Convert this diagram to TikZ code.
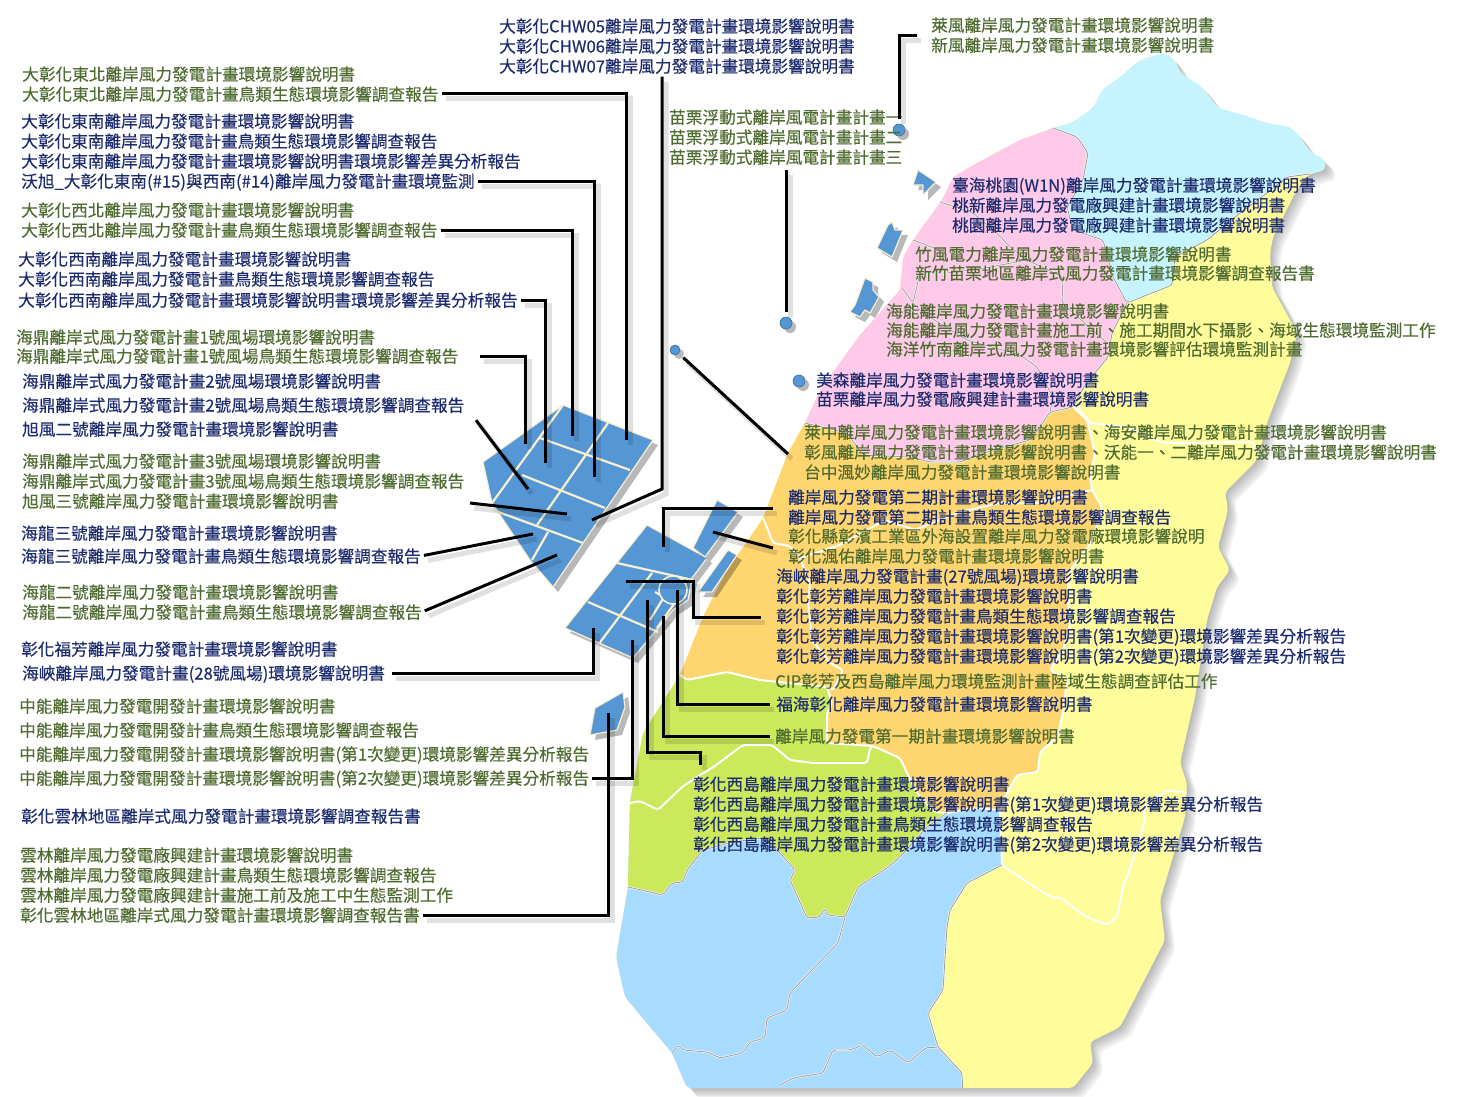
\documentclass[tikz,border=0pt]{standalone}
\usepackage{fontspec}
\setmainfont[FakeBold=0.25]{Noto Sans CJK TC}
\usetikzlibrary{shadows}
\definecolor{farmblue}{HTML}{5597D5}
\definecolor{farmedge}{HTML}{F7EFCF}
\definecolor{navytext}{HTML}{1C2B6E}
\definecolor{olivetext}{HTML}{4E6B30}
\definecolor{northcyan}{HTML}{C5F4FF}
\definecolor{northpink}{HTML}{FFC9E9}
\definecolor{midorange}{HTML}{FFD56F}
\definecolor{midgreen}{HTML}{CBE95B}
\definecolor{southblue}{HTML}{A7DBFF}
\definecolor{eastyellow}{HTML}{FFFC9B}
\newcommand\islandpath{(1053,128) -- (1073,122) -- (1093,108) -- (1102,90) -- (1120,77) -- (1140,60) -- (1163,53) -- (1173,58) -- (1182,75) -- (1200,85) -- (1218,108) -- (1243,115) -- (1267,123) -- (1290,127) -- (1300,137) -- (1310,152) -- (1325,160) -- (1325,170) -- (1310,174) -- (1303,180) -- (1293,197) -- (1273,237) -- (1270,253) -- (1272,287) -- (1297,333) -- (1290,363) -- (1268,420) -- (1257,460) -- (1240,477) -- (1225,492) -- (1228,510) -- (1218,547) -- (1230,570) -- (1217,587) -- (1207,620) -- (1195,697) -- (1180,763) -- (1187,783) -- (1185,817) -- (1160,900) -- (1165,940) -- (1120,1027) -- (1090,1042) -- (1093,1063) -- (1073,1088) -- (687,1088) -- (672,1053) -- (625,997) -- (616,957) -- (628,887) -- (630,802) -- (643,733) -- (680,675) -- (703,617) -- (727,570) -- (753,533) -- (763,518) -- (768,505) -- (788,453) -- (805,423) -- (820,390) -- (860,335) -- (900,290) -- (903,257) -- (913,240) -- (942,200) -- (953,177) -- (977,163) -- (1020,140) -- cycle}
\tikzset{
  bluelabel/.style={anchor=west,inner sep=0pt,text=navytext,font=\fontsize{16.65}{20}\selectfont,text height=15pt,text depth=2pt},
  greenlabel/.style={bluelabel,text=olivetext},
  leader/.style={line width=3pt,shorten <=3pt,preaction={draw=black,opacity=.12,line width=5pt,transform canvas={shift={(4pt,-5pt)}}}},
  farm/.style={fill=farmblue,draw=farmedge,line width=1.2pt,line join=round,drop shadow={shadow xshift=5pt,shadow yshift=-5pt,opacity=.28,fill=black}},
  farmgap/.style={draw=farmedge,line width=2.2pt},
  site/.style={circle,minimum size=12pt,inner sep=0pt,fill=farmblue,draw=farmblue!70!black,line width=.6pt,drop shadow={shadow xshift=4pt,shadow yshift=-4pt,opacity=.28,fill=black}},
  whiteline/.style={draw=white,line width=2pt,rounded corners=3pt},
  grayline/.style={draw=gray!75,line width=.9pt,rounded corners=3pt,preaction={draw=white,line width=2pt}}
}
\begin{document}
\begin{tikzpicture}[x=1pt,y=-1pt]
\useasboundingbox (0,0) rectangle (1464,1097);

\foreach \d in {2,4,6,8,10}
  \fill[black,opacity=.06,xshift=\d pt,yshift=-\d pt,rounded corners=4pt] \islandpath;
\fill[eastyellow,rounded corners=4pt] \islandpath;

\begin{scope}
  \clip[rounded corners=4pt] \islandpath;
  \fill[southblue] (600,780) -- (950,790) -- (1000,810) -- (1002,865) -- (967,883) -- (950,910) -- (947,927) -- (943,990) -- (928,1013) -- (938,1047) -- (962,1073) -- (963,1095) -- (600,1095) -- cycle;
  \fill[northcyan] (1053,128) -- (1077,137) -- (1088,153) -- (1083,180) -- (1067,207) -- (1073,230) -- (1103,240) -- (1113,277) -- (1127,303) -- (1172,285) -- (1175,257) -- (1207,240) -- (1240,213) -- (1267,193) -- (1287,177) -- (1310,174) -- (1340,170) -- (1340,30) -- (1040,30) -- (1040,120) -- cycle;
  \fill[northpink] (1053,128) -- (1077,137) -- (1088,153) -- (1083,180) -- (1067,207) -- (1073,230) -- (1103,240) -- (1113,277) -- (1127,303) -- (1112,333) -- (1108,357) -- (1085,385) -- (1073,407) -- (1050,412) -- (1040,427) -- (1030,440) -- (993,450) -- (960,462) -- (930,462) -- (910,457) -- (863,455) -- (847,433) -- (805,423) -- (780,420) -- (780,300) -- (900,130) -- cycle;
  \fill[midorange] (805,423) -- (847,433) -- (863,455) -- (910,457) -- (930,462) -- (960,462) -- (993,450) -- (1030,440) -- (1040,427) -- (1050,412) -- (1073,407) -- (1087,420) -- (1095,453) -- (1090,477) -- (1092,490) -- (1102,507) -- (1095,533) -- (1088,547) -- (1068,573) -- (1068,600) -- (1070,625) -- (1063,650) -- (1050,670) -- (1067,680) -- (1063,713) -- (1057,737) -- (1040,752) -- (1038,772) -- (1017,775) -- (1007,793) -- (1000,810) -- (977,808) -- (947,813) -- (935,812) -- (917,793) -- (907,773) -- (900,758) -- (873,746) -- (827,743) -- (827,713) -- (832,703) -- (827,687) -- (760,680) -- (727,672) -- (687,680) -- (680,675) -- (600,600) -- (760,400) -- cycle;
  \fill[midgreen] (680,675) -- (687,680) -- (727,672) -- (760,680) -- (827,687) -- (832,703) -- (827,713) -- (827,743) -- (873,746) -- (900,758) -- (907,773) -- (917,793) -- (935,812) -- (947,813) -- (927,827) -- (900,857) -- (887,868) -- (858,887) -- (845,917) -- (827,915) -- (825,908) -- (820,917) -- (807,918) -- (790,880) -- (795,870) -- (780,853) -- (763,838) -- (733,842) -- (703,850) -- (687,870) -- (683,882) -- (672,883) -- (663,895) -- (628,887) -- (600,890) -- (600,660) -- cycle;

  \draw[whiteline] (680,675) -- (687,680) -- (727,672) -- (760,680) -- (827,687) -- (832,703) -- (827,713) -- (827,743) -- (873,746) -- (900,758) -- (907,773) -- (917,793) -- (935,812) -- (947,813);
  \draw[whiteline] (630,803) -- (640,801) -- (658,810) -- (682,787) -- (700,775) -- (712,768) -- (743,745) -- (772,745) -- (790,760) -- (813,763) -- (867,763) -- (870,748) -- (873,746);
  \draw[whiteline] (763,518) -- (768,530) -- (773,543) -- (790,546) -- (800,558) -- (810,583) -- (808,600) -- (812,640) -- (830,663) -- (843,670) -- (833,690) -- (827,687);
  \draw[whiteline] (800,558) -- (840,545) -- (885,520) -- (915,530) -- (960,512) -- (1000,503) -- (1037,503) -- (1092,490);
  \draw[whiteline] (1073,407) -- (1087,420) -- (1095,453) -- (1090,477) -- (1092,490) -- (1102,507) -- (1095,533) -- (1088,547) -- (1068,573) -- (1068,600) -- (1070,625) -- (1063,650) -- (1050,670) -- (1067,680) -- (1063,713) -- (1057,737) -- (1040,752) -- (1038,772) -- (1017,775) -- (1007,793) -- (1000,810);
  \draw[whiteline] (1077,407) -- (1090,423) -- (1127,427) -- (1163,443) -- (1193,443) -- (1253,442) -- (1258,457);
  \draw[whiteline] (1002,865) -- (1027,882) -- (1053,898) -- (1060,897) -- (1083,915) -- (1107,925) -- (1117,917) -- (1123,887) -- (1133,860) -- (1145,820) -- (1143,807) -- (1168,790) -- (1187,793);
  \draw[whiteline] (947,813) -- (977,808) -- (1000,810) -- (1002,865);

  \draw[grayline] (1053,128) -- (1077,137) -- (1088,153) -- (1083,180) -- (1067,207) -- (1073,230) -- (1103,240) -- (1113,277) -- (1127,303) -- (1172,285) -- (1175,257) -- (1207,240) -- (1240,213) -- (1267,193) -- (1287,177) -- (1310,174);
  \draw[grayline] (1127,303) -- (1112,333) -- (1108,357) -- (1085,385) -- (1073,407) -- (1050,412) -- (1040,427) -- (1030,440) -- (993,450) -- (960,462) -- (930,462) -- (910,457) -- (863,455) -- (847,433) -- (805,423);
  \draw[grayline] (940,202) -- (973,213) -- (997,233) -- (1010,247) -- (1027,260) -- (1063,277) -- (1062,303) -- (1107,343);
  \draw[grayline] (913,240) -- (947,253) -- (947,273) -- (985,268) -- (1027,260);
  \draw[grayline] (902,288) -- (913,303) -- (920,273) -- (947,273);
  \draw[grayline] (913,303) -- (923,313) -- (967,340) -- (1020,355) -- (1037,367) -- (1053,397) -- (1050,412);
  \draw[grayline] (845,917) -- (838,943) -- (790,993) -- (787,1010) -- (767,1018) -- (765,1038) -- (750,1042) -- (743,1053) -- (720,1058) -- (707,1052) -- (683,1050) -- (678,1045) -- (672,1053);
  \draw[grayline] (938,1048) -- (927,1047) -- (908,1063) -- (890,1050) -- (877,1057) -- (863,1045) -- (850,1050) -- (833,1050) -- (823,1073) -- (793,1078) -- (780,1085);
  \draw[grayline] (1002,865) -- (967,883) -- (950,910) -- (947,927) -- (943,990) -- (928,1013) -- (938,1047) -- (962,1073) -- (963,1095);
  \draw[grayline] (628,887) -- (663,895) -- (672,883) -- (683,882) -- (687,870) -- (703,850) -- (733,842) -- (763,838) -- (780,853) -- (795,870) -- (790,880) -- (807,918) -- (820,917) -- (825,908) -- (827,915) -- (845,917) -- (858,887) -- (887,868) -- (900,857) -- (927,827) -- (947,813);
\end{scope}

% wind farms
\draw[farm] (563,405) -- (653,440) -- (583,543) -- (553,587) -- (530,560) -- (492,503) -- (483,462) -- cycle;
\draw[farmgap] (563,405) -- (492,503);
\draw[farmgap] (608,423) -- (537,525);
\draw[farmgap] (548,532) -- (532,560);
\draw[farmgap] (540,438) -- (630,470);
\draw[farmgap] (522,475) -- (605,508);
\draw[farmgap] (493,510) -- (583,543);
\draw[farm] (647,525) -- (707,558) -- (692,578) -- (688,600) -- (673,610) -- (633,658) -- (565,628) -- cycle;
\draw[farmgap] (617,563) -- (693,580);
\draw[farmgap] (588,602) -- (658,632);
\draw[farmgap] (652,573) -- (598,645);
\draw[farmgap] (655,592) -- (664,597) -- (650,620);
\draw[farmgap] (674,604) -- (657,628);
\draw[farmgap,fill=farmblue,line width=1.6pt] (673,590) circle (14);
\draw[farm] (717,500) -- (738,512) -- (705,557) -- (693,548) -- cycle;
\draw[farm] (728,550) -- (737,555) -- (712,592) -- (698,592) -- cycle;
\draw[farm] (623,692) -- (625,707) -- (617,730) -- (590,735) -- (595,708) -- cycle;
\draw[farm] (918,170) -- (936,182) -- (923,195) -- (923,185) -- (913,185) -- cycle;
\draw[farm] (892,222) -- (895,230) -- (903,230) -- (892,257) -- (877,248) -- (888,225) -- cycle;
\draw[farm] (865,278) -- (873,282) -- (873,290) -- (879,297) -- (870,313) -- (865,310) -- (860,317) -- (850,312) -- (855,305) -- (858,297) -- cycle;
\node[site] (siteA) at (899,130) {};
\node[site] (siteB) at (786,323) {};
\node[site,minimum size=10pt] (siteC) at (675,350) {};
\node[site] (siteD) at (799,381) {};

% labels on the left
\node[greenlabel] (dbnA) at (22,74) {大彰化東北離岸風力發電計畫環境影響說明書};
\node[greenlabel] (dbnB) at (22,94) {大彰化東北離岸風力發電計畫鳥類生態環境影響調查報告};
\node[bluelabel] (dbeA) at (21,121) {大彰化東南離岸風力發電計畫環境影響說明書};
\node[bluelabel] (dbeB) at (21,141) {大彰化東南離岸風力發電計畫鳥類生態環境影響調查報告};
\node[bluelabel] (dbeC) at (21,161) {大彰化東南離岸風力發電計畫環境影響說明書環境影響差異分析報告};
\node[bluelabel] (dbeD) at (21,181) {沃旭\_大彰化東南(\#15)與西南(\#14)離岸風力發電計畫環境監測};
\node[greenlabel] (dnwA) at (21,210) {大彰化西北離岸風力發電計畫環境影響說明書};
\node[greenlabel] (dnwB) at (21,230) {大彰化西北離岸風力發電計畫鳥類生態環境影響調查報告};
\node[bluelabel] (dswA) at (18,259) {大彰化西南離岸風力發電計畫環境影響說明書};
\node[bluelabel] (dswB) at (18,279) {大彰化西南離岸風力發電計畫鳥類生態環境影響調查報告};
\node[bluelabel] (dswC) at (18,300) {大彰化西南離岸風力發電計畫環境影響說明書環境影響差異分析報告};
\node[greenlabel] (hdaA) at (16,337) {海鼎離岸式風力發電計畫1號風場環境影響說明書};
\node[greenlabel] (hdaB) at (16,356) {海鼎離岸式風力發電計畫1號風場鳥類生態環境影響調查報告};
\node[bluelabel] (hdbA) at (22,381) {海鼎離岸式風力發電計畫2號風場環境影響說明書};
\node[bluelabel] (hdbB) at (22,405) {海鼎離岸式風力發電計畫2號風場鳥類生態環境影響調查報告};
\node[bluelabel] (hdbC) at (22,429) {旭風二號離岸風力發電計畫環境影響說明書};
\node[greenlabel] (hdcA) at (22,461) {海鼎離岸式風力發電計畫3號風場環境影響說明書};
\node[greenlabel] (hdcB) at (22,481) {海鼎離岸式風力發電計畫3號風場鳥類生態環境影響調查報告};
\node[greenlabel] (hdcC) at (22,501) {旭風三號離岸風力發電計畫環境影響說明書};
\node[bluelabel] (hlcA) at (21,533) {海龍三號離岸風力發電計畫環境影響說明書};
\node[bluelabel] (hlcB) at (21,556) {海龍三號離岸風力發電計畫鳥類生態環境影響調查報告};
\node[greenlabel] (hleA) at (22,592) {海龍二號離岸風力發電計畫環境影響說明書};
\node[greenlabel] (hleB) at (22,612) {海龍二號離岸風力發電計畫鳥類生態環境影響調查報告};
\node[bluelabel] (ffA) at (21,649) {彰化福芳離岸風力發電計畫環境影響說明書};
\node[bluelabel] (ffB) at (22,673) {海峽離岸風力發電計畫(28號風場)環境影響說明書};
\node[greenlabel] (znA) at (19,706) {中能離岸風力發電開發計畫環境影響說明書};
\node[greenlabel] (znB) at (19,730) {中能離岸風力發電開發計畫鳥類生態環境影響調查報告};
\node[greenlabel] (znC) at (19,754) {中能離岸風力發電開發計畫環境影響說明書(第1次變更)環境影響差異分析報告};
\node[greenlabel] (znD) at (19,778) {中能離岸風力發電開發計畫環境影響說明書(第2次變更)環境影響差異分析報告};
\node[bluelabel] (yla) at (21,816) {彰化雲林地區離岸式風力發電計畫環境影響調查報告書};
\node[greenlabel] (ylA) at (20,855) {雲林離岸風力發電廠興建計畫環境影響說明書};
\node[greenlabel] (ylB) at (20,875) {雲林離岸風力發電廠興建計畫鳥類生態環境影響調查報告};
\node[greenlabel] (ylC) at (20,895) {雲林離岸風力發電廠興建計畫施工前及施工中生態監測工作};
\node[greenlabel] (ylD) at (20,915) {彰化雲林地區離岸式風力發電計畫環境影響調查報告書};

% labels at the top
\node[bluelabel] (chwA) at (499,26) {大彰化CHW05離岸風力發電計畫環境影響說明書};
\node[bluelabel] (chwB) at (499,46) {大彰化CHW06離岸風力發電計畫環境影響說明書};
\node[bluelabel] (chwC) at (499,66) {大彰化CHW07離岸風力發電計畫環境影響說明書};
\node[greenlabel] (lfA) at (931,25) {萊風離岸風力發電計畫環境影響說明書};
\node[greenlabel] (lfB) at (931,45) {新風離岸風力發電計畫環境影響說明書};
\node[greenlabel] (mlA) at (669,117) {苗栗浮動式離岸風電計畫計畫一};
\node[greenlabel] (mlB) at (669,137) {苗栗浮動式離岸風電計畫計畫二};
\node[greenlabel] (mlC) at (669,157) {苗栗浮動式離岸風電計畫計畫三};

% labels on the map
\node[bluelabel] (tyA) at (952,185) {臺海桃園(W1N)離岸風力發電計畫環境影響說明書};
\node[bluelabel] (tyB) at (952,205) {桃新離岸風力發電廠興建計畫環境影響說明書};
\node[bluelabel] (tyC) at (952,225) {桃園離岸風力發電廠興建計畫環境影響說明書};
\node[greenlabel] (zfA) at (915,254) {竹風電力離岸風力發電計畫環境影響說明書};
\node[greenlabel] (zfB) at (915,273) {新竹苗栗地區離岸式風力發電計畫環境影響調查報告書};
\node[greenlabel] (hnA) at (886,311) {海能離岸風力發電計畫環境影響說明書};
\node[greenlabel] (hnB) at (886,330) {海能離岸風力發電計畫施工前、施工期間水下攝影、海域生態環境監測工作};
\node[greenlabel] (hnC) at (886,349) {海洋竹南離岸式風力發電計畫環境影響評估環境監測計畫};
\node[bluelabel] (msA) at (816,380) {美森離岸風力發電計畫環境影響說明書};
\node[bluelabel] (msB) at (816,399) {苗栗離岸風力發電廠興建計畫環境影響說明書};
\node[greenlabel] (tcA) at (804,432) {萊中離岸風力發電計畫環境影響說明書、海安離岸風力發電計畫環境影響說明書};
\node[greenlabel] (tcB) at (804,452) {彰風離岸風力發電計畫環境影響說明書、沃能一、二離岸風力發電計畫環境影響說明書};
\node[greenlabel] (tcC) at (804,472) {台中渢妙離岸風力發電計畫環境影響說明書};
\node[bluelabel] (ebA) at (788,497) {離岸風力發電第二期計畫環境影響說明書};
\node[bluelabel] (ebB) at (788,517) {離岸風力發電第二期計畫鳥類生態環境影響調查報告};
\node[greenlabel] (ebC) at (788,536) {彰化縣彰濱工業區外海設置離岸風力發電廠環境影響說明};
\node[greenlabel] (ebD) at (788,556) {彰化渢佑離岸風力發電計畫環境影響說明書};
\node[bluelabel] (cfA) at (776,576) {海峽離岸風力發電計畫(27號風場)環境影響說明書};
\node[bluelabel] (cfB) at (776,596) {彰化彰芳離岸風力發電計畫環境影響說明書};
\node[bluelabel] (cfC) at (776,616) {彰化彰芳離岸風力發電計畫鳥類生態環境影響調查報告};
\node[bluelabel] (cfD) at (776,636) {彰化彰芳離岸風力發電計畫環境影響說明書(第1次變更)環境影響差異分析報告};
\node[bluelabel] (cfE) at (776,656) {彰化彰芳離岸風力發電計畫環境影響說明書(第2次變更)環境影響差異分析報告};
\node[greenlabel] (cip) at (775,681) {CIP彰芳及西島離岸風力環境監測計畫陸域生態調查評估工作};
\node[bluelabel] (fh) at (776,704) {福海彰化離岸風力發電計畫環境影響說明書};
\node[greenlabel] (efa) at (775,736) {離岸風力發電第一期計畫環境影響說明書};
\node[bluelabel] (xdA) at (693,784) {彰化西島離岸風力發電計畫環境影響說明書};
\node[bluelabel] (xdB) at (693,804) {彰化西島離岸風力發電計畫環境影響說明書(第1次變更)環境影響差異分析報告};
\node[bluelabel] (xdC) at (693,824) {彰化西島離岸風力發電計畫鳥類生態環境影響調查報告};
\node[bluelabel] (xdD) at (693,844) {彰化西島離岸風力發電計畫環境影響說明書(第2次變更)環境影響差異分析報告};

% free ends of the leaders
\coordinate (tNE) at (626,440);
\coordinate (tSE) at (594,477);
\coordinate (tNW) at (572,436);
\coordinate (tSW) at (545,463);
\coordinate (tHDa) at (525,444);
\coordinate (tHDb) at (528,489);
\coordinate (sHDc) at (470,503);
\coordinate (tHDc) at (567,514);
\coordinate (tHLc) at (533,534);
\coordinate (tHLe) at (557,555);
\coordinate (tFF) at (593,628);
\coordinate (tZN) at (632,640);
\coordinate (tYL) at (608,713);
\coordinate (bCHW) at (662,489);
\coordinate (tCHW) at (592,520);
\coordinate (sEB) at (773,508);
\coordinate (tEB) at (663,547);
\coordinate (sEBd) at (773,548);
\coordinate (tEBd) at (713,532);
\coordinate (sCF) at (761,617);
\coordinate (bCF) at (693,581);
\coordinate (tCF) at (626,581);
\coordinate (tFH) at (677,590);
\coordinate (tEFa) at (663,616);
\coordinate (bXD) at (647,752);
\coordinate (tXD) at (647,600);
\coordinate (sLF) at (917,36);
\coordinate (tTC) at (788,454);

% leaders
\draw[leader] (dbnB.east) -| (tNE);
\draw[leader] (dbeD.east) -| (tSE);
\draw[leader] (dnwB.east) -| (tNW);
\draw[leader] (dswC.east) -| (tSW);
\draw[leader,shorten <=21pt] (hdaB.east) -| (tHDa);
\draw[leader,shorten <=19pt] (hdbB.east) -- (tHDb);
\draw[leader,shorten <=0pt] (sHDc) -- (tHDc);
\draw[leader] (hlcB.east) -- (tHLc);
\draw[leader] (hleB.east) -- (tHLe);
\draw[leader,shorten <=7pt] (ffB.east) -| (tFF);
\draw[leader] (znD.east) -| (tZN);
\draw[leader] (ylD.east) -| (tYL);
\draw[leader,shorten <=2pt] (chwC.south -| bCHW) -- (bCHW) -- (tCHW);
\draw[leader,shorten <=0pt] (sEB) -| (tEB);
\draw[leader,shorten <=0pt] (sEBd) -- (tEBd);
\draw[leader,shorten <=0pt] (sCF) -| (bCF) -- (tCF);
\draw[leader,shorten <=6pt] (fh.west) -| (tFH);
\draw[leader,shorten <=5pt] (efa.west) -| (tEFa);
\draw[leader,shorten <=10pt] (xdA.north -| 700,784) |- (bXD) -- (tXD);
\draw[leader,shorten <=4pt,shorten >=5pt] (mlC.south -| siteB) -- (siteB);
\draw[leader,shorten <=0pt,shorten >=5pt] (sLF) -| (siteA);
\draw[leader,shorten <=6pt] (siteC) -- (tTC);
\end{tikzpicture}
\end{document}
